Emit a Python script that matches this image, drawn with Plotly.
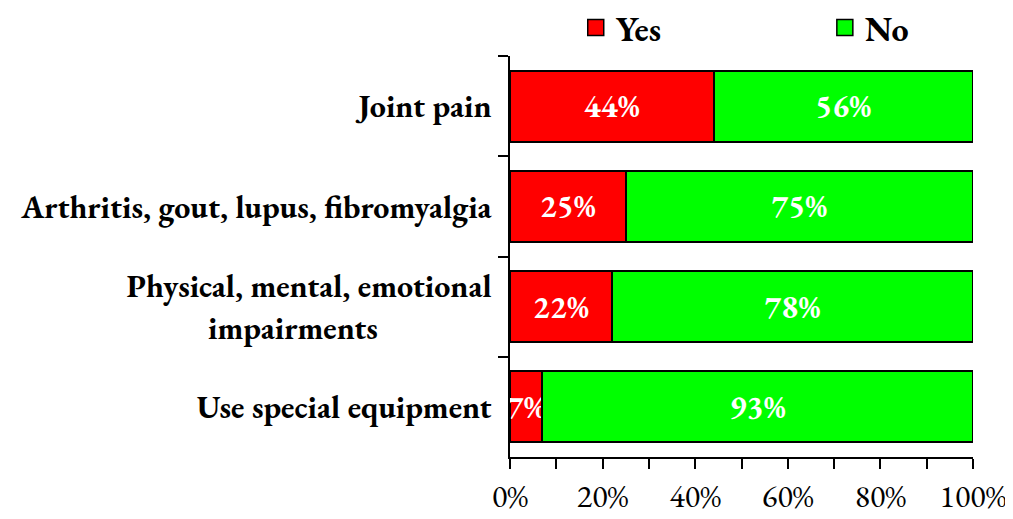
import plotly.graph_objects as go

categories = ["Joint pain", "Arthritis, gout, lupus, fibromyalgia",
              "Physical, mental, emotional<br>impairments" + "\u00a0" * 15,
              "Use special equipment"]
yes_vals = [44, 25, 22, 7]
no_vals = [56, 75, 78, 93]
tick_vals = [0, 20, 40, 60, 80, 100]
tick_text = ["0%", "20%", "40%", "60%", "80%", "100%"]

FONT = "Garamond, 'EB Garamond', 'Liberation Serif', 'DejaVu Serif', serif"

fig = go.Figure()
for name, vals, color, leg in [("Yes", yes_vals, "#FF0000", "legend"),
                               ("No", no_vals, "#00FF00", "legend2")]:
    fig.add_trace(go.Bar(
        y=categories, x=vals, orientation="h", name=name,
        marker=dict(color=color, line=dict(color="black", width=2)),
        text=[f"{v}%" for v in vals], textposition="inside",
        insidetextanchor="middle", constraintext="none",
        textfont=dict(family=FONT, size=32, color="white", weight="bold"),
        showlegend=False,
    ))
    fig.add_trace(go.Scatter(
        x=[None], y=[None], mode="markers", name=name, legend=leg,
        marker=dict(symbol="square", size=18, color=color,
                    line=dict(color="black", width=1.5)),
        showlegend=True,
    ))

legend_common = dict(orientation="h", yanchor="middle", y=1.07, xanchor="left",
                     font=dict(family=FONT, size=34, weight="bold", color="black"),
                     itemsizing="trace", bgcolor="rgba(0,0,0,0)")
fig.update_layout(
    width=1005, height=511,
    barmode="stack", bargap=0.29,
    plot_bgcolor="white", paper_bgcolor="white",
    margin=dict(l=502, r=40, t=48, b=62, autoexpand=False),
    font=dict(family=FONT, size=30, color="black"),
    legend=dict(x=0.142, **legend_common),
    legend2=dict(x=0.68, **legend_common),
)
fig.update_xaxes(
    range=[0, 100], tickvals=tick_vals, ticktext=tick_text,
    ticks="outside", ticklen=10, tickwidth=2, tickcolor="black",
    minor=dict(dtick=10, ticks="outside", ticklen=10, tickwidth=2, tickcolor="black"),
    showline=True, linecolor="black", linewidth=2,
    showgrid=False, zeroline=False, ticklabelstandoff=0,
    tickfont=dict(family=FONT, size=32),
)
fig.update_yaxes(
    categoryorder="array", categoryarray=categories, autorange="reversed",
    tickson="boundaries", ticks="outside", ticklen=10, tickwidth=2, tickcolor="black",
    showline=True, linecolor="black", linewidth=2, showgrid=False,
    tickfont=dict(family=FONT, size=32, weight="bold"),
    ticklabelstandoff=10,
)
fig.write_html("out.html")
